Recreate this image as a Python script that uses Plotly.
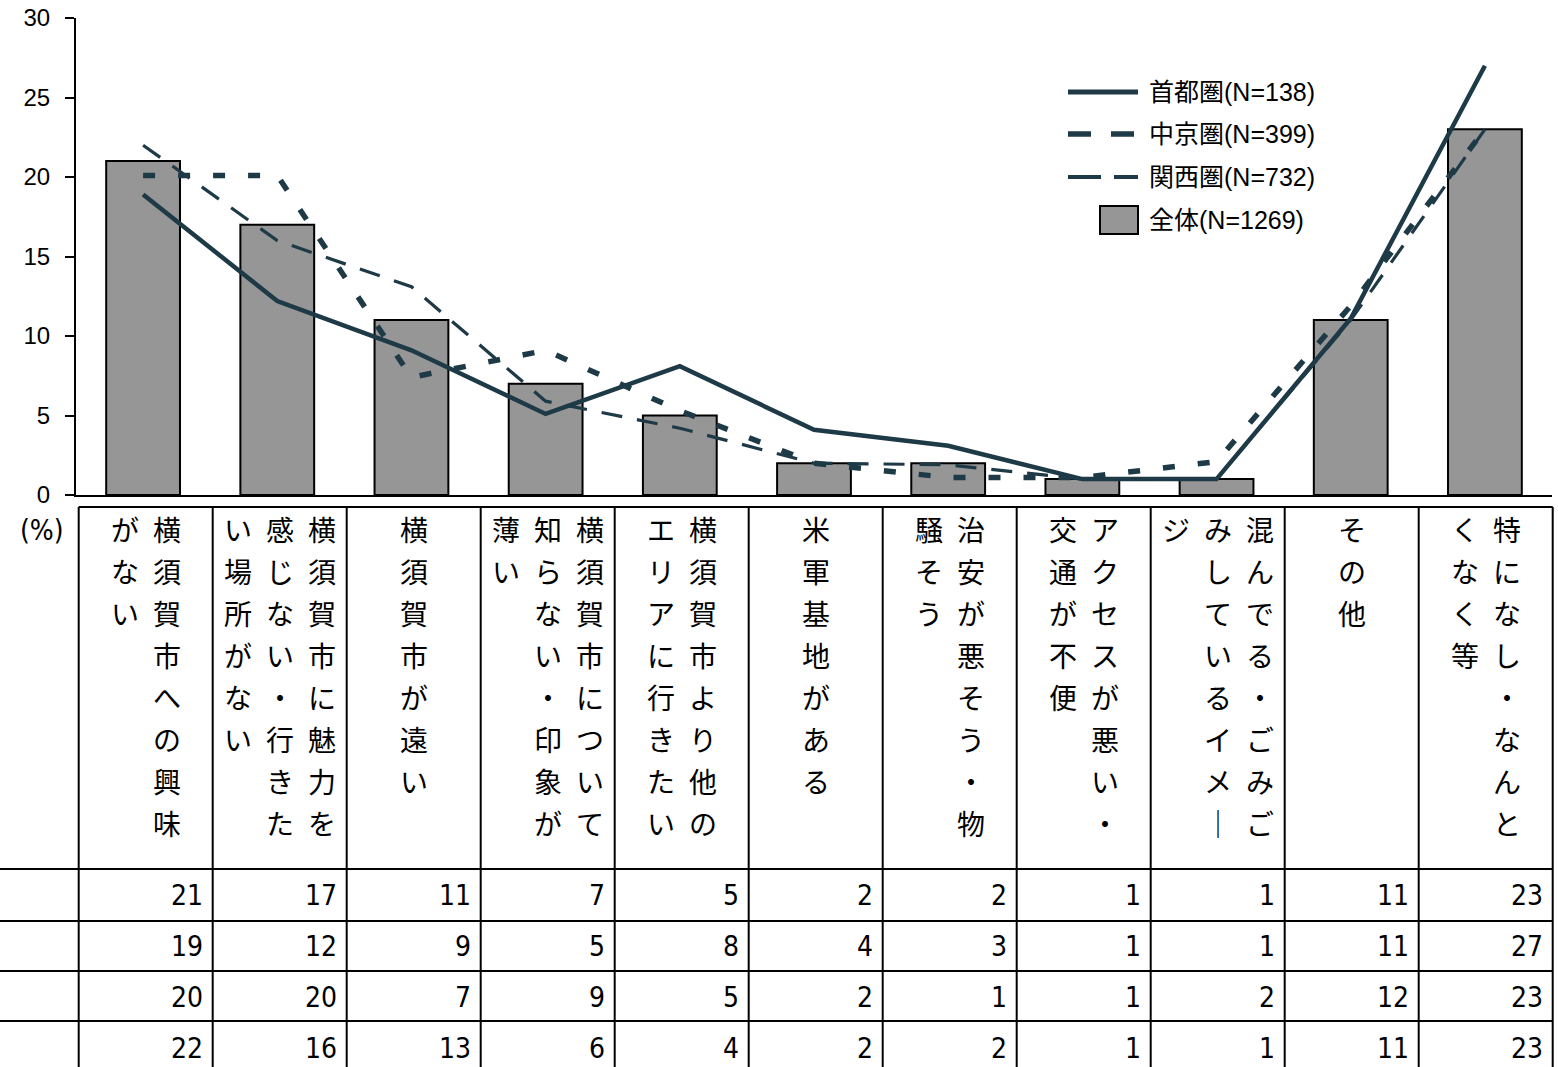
import plotly.graph_objects as go

W, H = 1558, 1067

# ---------------- data ----------------
categories = [
    "横須賀市への興味がない",
    "横須賀市に魅力を感じない・行きたい場所がない",
    "横須賀市が遠い",
    "横須賀市について知らない・印象が薄い",
    "横須賀市より他のエリアに行きたい",
    "米軍基地がある",
    "治安が悪そう・物騒そう",
    "アクセスが悪い・交通が不便",
    "混んでる・ごみごみしているイメージ",
    "その他",
    "特になし・なんとくなく等",
]
total_vals = [21, 17, 11, 7, 5, 2, 2, 1, 1, 11, 23]
shutoken_vals = [18.9, 12.2, 9.1, 5.1, 8.1, 4.1, 3.1, 1.0, 1.0, 11.1, 27.0]
chukyo_vals = [20.1, 20.1, 7.4, 9.1, 5.3, 2.0, 1.1, 1.1, 2.1, 11.9, 23.0]
kansai_vals = [22.0, 16.0, 13.1, 5.9, 4.2, 2.0, 1.9, 1.0, 1.0, 11.0, 23.0]
series_names = ["首都圏(N=138)", "中京圏(N=399)", "関西圏(N=732)", "全体(N=1269)"]
y_ticks = [0, 5, 10, 15, 20, 25, 30]
unit_label = "(%)"

# ---------------- style ----------------
LINE_C = "#1e3a47"
BAR_C = "#969696"
TICK_FONT = "Liberation Sans, Arial, Noto Sans CJK JP"
TABLE_FONT = "Noto Sans CJK JP"
NUM_FONT = "DejaVu Sans Condensed, DejaVu Sans"


def px(x):
    return x / W


def py(y):
    return 1 - y / H


fig = go.Figure()
fig.add_trace(go.Bar(
    x=categories, y=total_vals, name=series_names[3],
    marker=dict(color=BAR_C, line=dict(color="black", width=2)),
    showlegend=False,
))
line_styles = [
    dict(color=LINE_C, width=4.5),
    dict(color=LINE_C, width=5.5, dash="12px,23px"),
    dict(color=LINE_C, width=3.2, dash="21px,15px"),
]
for vals, name, st in zip([shutoken_vals, chukyo_vals, kansai_vals], series_names[:3], line_styles):
    fig.add_trace(go.Scatter(x=categories, y=vals, name=name, mode="lines",
                             line=st, showlegend=False))

shapes = []
annotations = []

# ---------------- custom legend ----------------
leg_y = [92, 134, 177, 220]
leg_dash = ["solid", "23px,20px", "33px,13px"]
leg_w = [5, 5.5, 4]
for i in range(3):
    shapes.append(dict(type="line", xref="paper", yref="paper",
                       x0=px(1068), x1=px(1138), y0=py(leg_y[i]), y1=py(leg_y[i]),
                       line=dict(color=LINE_C, width=leg_w[i], dash=leg_dash[i])))
shapes.append(dict(type="rect", xref="paper", yref="paper",
                   x0=px(1100), x1=px(1138), y0=py(234), y1=py(206),
                   fillcolor=BAR_C, line=dict(color="black", width=2)))
for i, nm in enumerate(series_names):
    annotations.append(dict(xref="paper", yref="paper", x=px(1147), y=py(leg_y[i]),
                            text=nm, showarrow=False, xanchor="left", yanchor="middle",
                            font=dict(family=TICK_FONT, size=25, color="black")))

# ---------------- data table ----------------
n = len(categories)
cell_left = 78.7
cell_w = 134.0
right_edge = cell_left + cell_w * n
hdr_top, hdr_bot = 507, 869
row_lines = [921, 971, 1021]
row_centers = [895, 947, 997, 1048]

LW = 2
shapes.append(dict(type="line", xref="paper", yref="paper", x0=px(cell_left), x1=px(right_edge),
                   y0=py(hdr_top), y1=py(hdr_top), line=dict(color="black", width=LW)))
for yy in [hdr_bot] + row_lines:
    shapes.append(dict(type="line", xref="paper", yref="paper", x0=0, x1=px(right_edge),
                       y0=py(yy), y1=py(yy), line=dict(color="black", width=LW)))
for i in range(n + 1):
    xx = cell_left + cell_w * i
    shapes.append(dict(type="line", xref="paper", yref="paper", x0=px(xx), x1=px(xx),
                       y0=py(hdr_top), y1=0, line=dict(color="black", width=LW)))

annotations.append(dict(xref="paper", yref="paper", x=px(42), y=py(530), text=unit_label,
                        showarrow=False, xanchor="center", yanchor="middle",
                        font=dict(family=NUM_FONT, size=28, color="black")))

vert_map = {"ー": "｜"}
CH = 8
col_sp = 42
row_sp = 42
for i, cat in enumerate(categories):
    cx = cell_left + cell_w * (i + 0.5)
    cols = [cat[k:k + CH] for k in range(0, len(cat), CH)]
    nc = len(cols)
    for c, colstr in enumerate(cols):
        x = cx + (nc - 1) / 2 * col_sp - c * col_sp
        for r, ch in enumerate(colstr):
            annotations.append(dict(xref="paper", yref="paper", x=px(x), y=py(529 + r * row_sp),
                                    text=vert_map.get(ch, ch), showarrow=False,
                                    xanchor="center", yanchor="middle",
                                    font=dict(family=TABLE_FONT, size=28, color="black")))

table_rows = [total_vals, shutoken_vals, chukyo_vals, kansai_vals]
for r, vals in enumerate(table_rows):
    for i, v in enumerate(vals):
        x = cell_left + cell_w * (i + 1) - 8
        annotations.append(dict(xref="paper", yref="paper", x=px(x), y=py(row_centers[r]),
                                text=f"{v:.0f}", showarrow=False, xanchor="right", yanchor="middle",
                                font=dict(family=NUM_FONT, size=28, color="black")))

fig.update_layout(
    width=W, height=H, template="none",
    margin=dict(l=0, r=0, t=0, b=0, pad=0),
    paper_bgcolor="white", plot_bgcolor="white",
    bargap=0.45,
    showlegend=False,
    xaxis=dict(domain=[px(76), px(1552)], type="category", range=[-0.5, n - 0.5],
               showticklabels=False, ticks="", showgrid=False, zeroline=False,
               showline=True, linecolor="black", linewidth=2, automargin=False),
    yaxis=dict(domain=[py(495), py(18)], range=[0, 30], tickvals=y_ticks,
               ticks="outside", ticklen=9, tickwidth=2, tickcolor="black",
               showgrid=False, zeroline=False, showline=True, linecolor="black", linewidth=2,
               tickfont=dict(family=TICK_FONT, size=24, color="black"),
               ticklabelstandoff=10, automargin=False),
    shapes=shapes,
    annotations=annotations,
)

fig.write_html(
    "out.html",
    config={"displayModeBar": False},
    post_script="document.body.style.margin='0';document.body.style.padding='0';"
                "document.body.style.overflow='hidden';",
)
